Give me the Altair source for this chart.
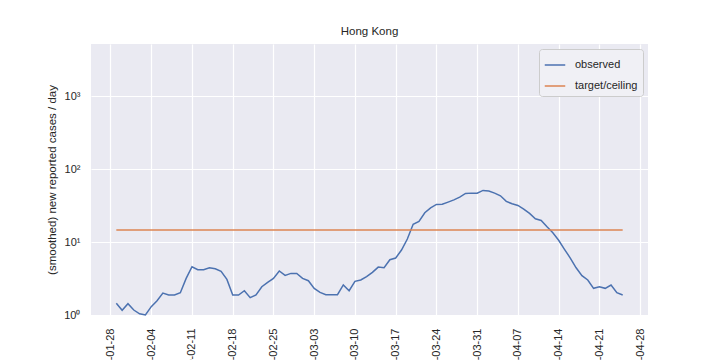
import altair as alt
import pandas as pd

observed = [
    1.45, 1.16, 1.43,
    1.17, 1.04, 1.0, 1.30, 1.57, 2.0, 1.88, 1.88, 2.02, 3.18, 4.59, 4.18, 4.18, 4.44,
    4.31, 3.97, 3.08, 1.88, 1.88, 2.15, 1.73, 1.88, 2.44, 2.80, 3.18, 4.01, 3.49, 3.72, 3.72,
    3.18, 2.95, 2.32, 2.04, 1.90, 1.90, 1.90, 2.58, 2.15, 2.89, 3.02, 3.35, 3.85, 4.54,
    4.44, 5.72, 6.04, 7.77, 11.0, 17.5, 19.2, 25.2, 29.5, 32.8, 33.0, 35.3, 37.9, 41.3,
    46.4, 46.9, 46.9,
    51.1, 50.0, 46.9, 43.1, 36.1, 33.5, 31.8, 28.3, 24.7, 20.9, 19.8, 16.2, 13.4, 10.6,
    7.95, 6.04, 4.44, 3.46, 3.02, 2.32, 2.44, 2.32, 2.58, 2.02, 1.88,
]
dates = [d.strftime("%Y-%m-%d") for d in pd.date_range("2020-01-29", periods=len(observed), freq="D")]
target_value = 14.6
tick_dates = [d.strftime("%Y-%m-%d") for d in pd.date_range("2020-01-28", "2020-04-28", freq="7D")]
series_names = ["observed", "target/ceiling"]
series_colors = ["#4c72b0", "#dd8452"]

rows = [{"date": d, "value": v, "series": series_names[0]} for d, v in zip(dates, observed)]
rows += [{"date": dates[0], "value": target_value, "series": series_names[1]},
         {"date": dates[-1], "value": target_value, "series": series_names[1]}]
df = pd.DataFrame(rows)

FONT = "Liberation Sans"
TXT = "#262626"

tick_vals = [alt.DateTime(year=int(t[:4]), month=int(t[5:7]), date=int(t[8:]), utc=True) for t in tick_dates]

chart = alt.Chart(df).mark_line(strokeWidth=1.5).encode(
    x=alt.X(
        "date:T",
        scale=alt.Scale(
            type="utc",
            domain=[
                alt.DateTime(year=2020, month=1, date=24, hours=15, minutes=36, utc=True),
                alt.DateTime(year=2020, month=4, date=29, hours=8, minutes=24, utc=True),
            ],
        ),
        axis=alt.Axis(
            values=tick_vals,
            labelExpr="utcFormat(datum.value, '%Y-%m-%d')",
            labelAngle=270,
            labelPadding=13,
            labelFontSize=11,
            labelFont=FONT,
            labelColor=TXT,
            ticks=False,
            domain=False,
            grid=True,
            gridColor="white",
            gridWidth=1.2,
            title=None,
            labelOverlap=False,
        ),
    ),
    y=alt.Y(
        "value:Q",
        scale=alt.Scale(type="log", domain=[1, 5200]),
        axis=alt.Axis(
            values=[1, 10, 100, 1000],
            labelExpr="datum.value == 1 ? '10⁰' : datum.value == 10 ? '10¹' : datum.value == 100 ? '10²' : '10³'",
            labelPadding=11,
            labelFontSize=11,
            labelFont=FONT,
            labelColor=TXT,
            ticks=False,
            domain=False,
            grid=True,
            gridColor="white",
            gridWidth=1.2,
            title="(smoothed) new reported cases / day",
            titleFont=FONT,
            titleFontSize=11.5,
            titleFontWeight="normal",
            titleColor=TXT,
            titlePadding=6,
        ),
    ),
    color=alt.Color(
        "series:N",
        scale=alt.Scale(domain=series_names, range=series_colors),
        legend=alt.Legend(
            title=None,
            orient="top-right",
            offset=5,
            padding=5,
            fillColor="#f0f0f5",
            strokeColor="#cccccc",
            cornerRadius=3,
            labelFont=FONT,
            labelFontSize=11,
            labelColor=TXT,
            labelOffset=9,
            symbolType="stroke",
            symbolSize=420,
            symbolStrokeWidth=1.5,
            rowPadding=5,
        ),
    ),
).properties(
    width=557,
    height=271,
    title=alt.TitleParams("Hong Kong", font=FONT, fontSize=11.5, fontWeight="normal", color=TXT, offset=7),
    autosize=alt.AutoSizeParams(type="none"),
    padding={"left": 83, "top": 36, "right": 64, "bottom": 70},
).configure_view(
    fill="#eaeaf2",
    stroke=None,
)

chart.save("out.html", embed_options={"renderer": "svg", "actions": False})
